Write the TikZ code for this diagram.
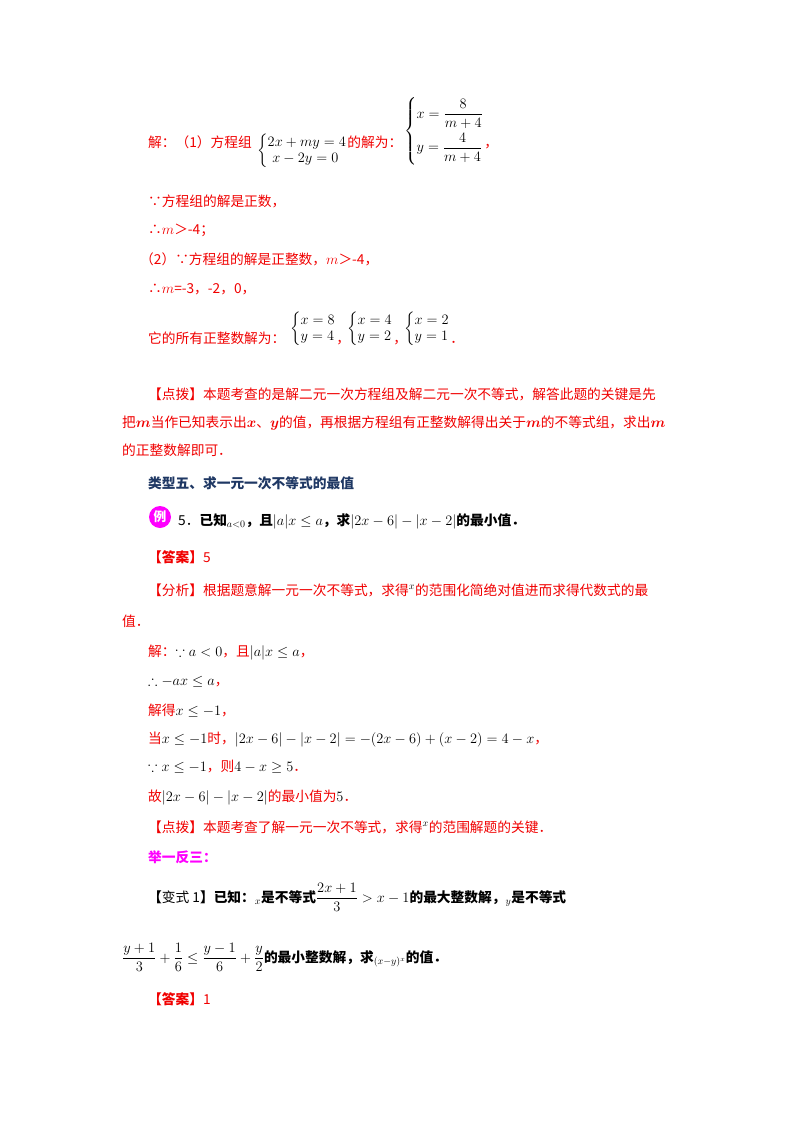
\documentclass[tikz,border=0pt]{standalone}
\usepackage{fontspec}
\usepackage{amsmath,amssymb,bm}
\newfontfamily\cjk[Scale=0.98]{Noto Sans CJK SC}
\definecolor{rd}{RGB}{240,0,0}
\definecolor{navy}{RGB}{31,56,100}
\definecolor{mag}{RGB}{255,0,255}
\begin{document}
\begin{tikzpicture}[x=1pt,y=-1pt,
  t/.style={anchor=base west,inner sep=0pt,font=\cjk\fontsize{14}{16}\selectfont,text=rd},
  tb/.style={t,text=black,font=\cjk\bfseries\fontsize{14}{16}\selectfont},
  m/.style={anchor=west,inner sep=0pt,font=\fontsize{14}{16}\selectfont}]
\useasboundingbox (0,0) rectangle (800,1132);
% part 1
\node[t] (l1) at (148,147) {解：（1）方程组};
\node[m] (s1) at (257,151) {$\left\{\begin{array}{@{}l@{}}2x+my=4\\ \ x-2y=0\end{array}\right.$};
\node[t] (l1b) at (s1.east|-l1.base) {的解为：};
\node[m] (s2) at (404,131) {$\left\{\begin{array}{@{}l@{}}x=\dfrac{8}{m+4}\\[10pt] y=\dfrac{4}{m+4}\end{array}\right.$};
\node[t] (c1) at (s2.east|-l1.base) {，};
\node[t] (l2) at (148,206) {∵方程组的解是正数，};
\node[t] (l3) at (148,234) {∴$m$＞-4；};
\node[t] (l4) at (140,264) {（2）∵方程组的解是正整数，$m$＞-4，};
\node[t] (l5) at (148,293) {∴$m$=-3，-2，0，};
\node[t] (l6) at (148,343) {它的所有正整数解为：};
\node[m] (s3) at (290,329) {$\left\{\begin{array}{@{}l@{}}x=8\\ y=4\end{array}\right.$};
\node[t] (c3) at (s3.east|-l6.base) {，};
\node[m] (s4) at (347,329) {$\left\{\begin{array}{@{}l@{}}x=4\\ y=2\end{array}\right.$};
\node[t] (c4) at (s4.east|-l6.base) {，};
\node[m] (s5) at (404,329) {$\left\{\begin{array}{@{}l@{}}x=2\\ y=1\end{array}\right.$};
\node[t] (c5) at (s5.east|-l6.base) {．};
% dianbo
\node[t] (d1) at (148,399) {【点拨】本题考查的是解二元一次方程组及解二元一次不等式，解答此题的关键是先};
\node[t] (d2) at (122,427) {把$\bm{m}$当作已知表示出$\bm{x}$、$\bm{y}$的值，再根据方程组有正整数解得出关于$\bm{m}$的不等式组，求出$\bm{m}$};
\node[t] (d3) at (122,455) {的正整数解即可．};
% heading
\node[tb,text=navy] (h) at (148,488) {类型五、求一元一次不等式的最值};
\node[circle,fill=mag,minimum size=22pt,inner sep=0pt,text=white,font=\cjk\bfseries\fontsize{13}{14}\selectfont] (badge) at (160,517) {例};
\node[tb] (e1) at (178,525) {\mdseries 5．\bfseries 已知$_{a<0}$，且$|a|x\le a$，求$|2x-6|-|x-2|$的最小值．};
\node[t] (a1) at (148,562) {\textbf{【答案】}5};
\node[t] (f1) at (148,595) {【分析】根据题意解一元一次不等式，求得\textcolor{black}{$^{x}$}的范围化简绝对值进而求得代数式的最};
\node[t] (f2) at (122,626) {值．};
\node[t] (j1) at (148,656) {解：\textcolor{black}{$\because a<0$}，且\textcolor{black}{$|a|x\le a$}，};
\node[t] (j2) at (148,685) {\textcolor{black}{$\therefore -ax\le a$}，};
\node[t] (j3) at (148,715) {解得\textcolor{black}{$x\le -1$}，};
\node[t] (j4) at (148,743) {当\textcolor{black}{$x\le -1$}时，\textcolor{black}{$|2x-6|-|x-2|=-(2x-6)+(x-2)=4-x$}，};
\node[t] (j5) at (148,771) {\textcolor{black}{$\because x\le -1$}，则\textcolor{black}{$4-x\ge 5$}．};
\node[t] (j6) at (148,801) {故\textcolor{black}{$|2x-6|-|x-2|$}的最小值为\textcolor{black}{$5$}．};
\node[t] (p1) at (148,832) {【点拨】本题考查了解一元一次不等式，求得\textcolor{black}{$^{x}$}的范围解题的关键．};
\node[tb,text=mag] (jy) at (148,862) {举一反三：};
\node[tb] (b1) at (148,902) {【\mdseries 变式 1\bfseries 】已知：$_{x}$是不等式$\dfrac{2x+1}{3}>x-1$的最大整数解，$_{y}$是不等式};
\node[tb] (b2) at (122,962) {$\dfrac{y+1}{3}+\dfrac{1}{6}\le\dfrac{y-1}{6}+\dfrac{y}{2}$的最小整数解，求$_{(x-y)^x}$的值．};
\node[t] (a2) at (148,1004) {\textbf{【答案】}1};
\end{tikzpicture}
\end{document}
